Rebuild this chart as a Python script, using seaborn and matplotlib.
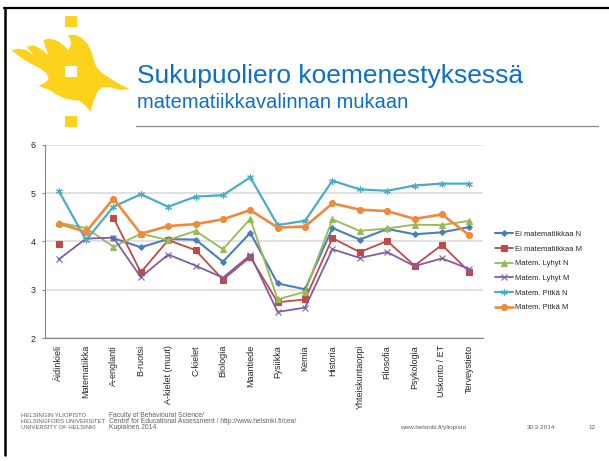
import numpy as np
import pandas as pd
import seaborn as sns
import matplotlib.pyplot as plt
from matplotlib.patches import Polygon, Rectangle

# data
cats = ["Äidinkieli", "Matematiikka", "A-englanti", "B-ruotsi", "A-kielet (muut)",
        "C-kielet", "Biologia", "Maantiede", "Fysiikka", "Kemia", "Historia",
        "Yhteiskuntaoppi", "Filosofia", "Psykologia", "Uskonto / ET", "Terveystieto"]
ei_n = [np.nan, np.nan, 4.07, 3.88, 4.05, 4.04, 3.58, 4.18, 3.13, 3.01, 4.28, 4.04, 4.26, 4.15, 4.19, 4.30]
ei_m = [3.95, np.nan, 4.49, 3.36, 4.03, 3.82, 3.21, 3.68, 2.74, 2.80, 4.07, 3.78, 4.01, 3.50, 3.93, 3.37]
lyhyt_n = [4.39, 4.28, 3.89, 4.16, 4.03, 4.22, 3.84, 4.47, 2.80, 2.96, 4.46, 4.22, 4.27, 4.35, 4.34, 4.43]
lyhyt_m = [3.63, 4.06, 4.08, 3.26, 3.73, 3.50, 3.25, 3.72, 2.54, 2.63, 3.84, 3.66, 3.78, 3.49, 3.65, 3.43]
pitka_n = [5.05, 4.03, 4.72, 4.98, 4.72, 4.93, 4.96, 5.33, 4.34, 4.43, 5.26, 5.08, 5.05, 5.16, 5.20, 5.20]
pitka_m = [4.37, 4.20, 4.89, 4.16, 4.32, 4.36, 4.46, 4.65, 4.29, 4.31, 4.79, 4.66, 4.63, 4.47, 4.56, 4.13]

series = [
    ("Ei matematiikkaa N", ei_n, "#4A7EBB", "D", 2.9, 1.5),
    ("Ei matematiikkaa M", ei_m, "#BE4B48", "s", 4.0, 1.3),
    ("Matem. Lyhyt N", lyhyt_n, "#98B954", "^", 4.2, 1.3),
    ("Matem. Lyhyt M", lyhyt_m, "#7D5FA0", "x", 4.0, 1.3),
    ("Matem. Pitkä N", pitka_n, "#4BACC6", (6, 2, 0), 4.8, 1.6),
    ("Matem. Pitkä M", pitka_m, "#F08A3A", "o", 4.3, 1.9),
]

sns.set_style("white")
plt.rcParams['font.family'] = ['Liberation Sans', 'DejaVu Sans']

fig = plt.figure(figsize=(6.09, 4.61), dpi=100)

# background layer in pixel coords for the slide decorations
bg = fig.add_axes([0, 0, 1, 1])
bg.set_xlim(0, 609)
bg.set_ylim(461, 0)
bg.axis('off')

yellow = '#FDD21C'
flame = [(35, 151), (55, 146), (78, 150), (96, 162), (104, 170),
         (88, 150), (80, 140), (100, 136), (122, 146), (138, 160), (146, 166),
         (136, 140), (130, 120), (150, 116), (175, 124), (195, 140), (205, 150),
         (214, 132), (210, 116), (203, 106), (222, 104), (245, 113), (263, 132),
         (276, 160), (285, 192), (298, 212), (325, 232), (355, 250), (390, 268),
         (360, 270), (330, 262), (305, 262), (292, 275), (282, 300), (272, 334),
         (255, 316), (238, 302), (218, 300), (195, 296), (170, 284), (145, 268), (115, 258),
         (132, 250), (146, 238), (140, 220), (120, 205), (95, 192), (70, 178), (50, 163)]
bg.add_patch(Polygon([(x / 3, y / 3) for x, y in flame], closed=True, color=yellow, lw=0))
bg.add_patch(Rectangle((65, 16), 12, 11, color=yellow, lw=0))
bg.add_patch(Rectangle((65, 66), 12, 11, color='white', lw=0))
bg.add_patch(Rectangle((65, 116), 12, 11, color=yellow, lw=0))

# slide frame
bg.plot([4, 609], [8.3, 8.3], color='black', lw=1.6)
bg.plot([4.5, 4.5], [8, 455], color='black', lw=1.8)

bg.text(137, 83, "Sukupuoliero koemenestyksessä", fontsize=19, color='#0F6FC6', va='baseline')
bg.text(137, 108, "matematiikkavalinnan mukaan", fontsize=14.5, color='#0F6FC6', va='baseline')
bg.plot([136, 598], [126, 126], color='#8C8C8C', lw=0.9)

foot = dict(fontsize=4.3, color='#606060', va='center')
for i, t in enumerate(["HELSINGIN YLIOPISTO", "HELSINGFORS UNIVERSITET", "UNIVERSITY OF HELSINKI"]):
    bg.text(21, 415 + 6.2 * i, t, **foot)
foot['fontsize'] = 4.9
for i, t in enumerate(["Faculty of Behavioural Science/",
                       "Centre for Educational Assessment / http://www.helsinki.fi/cea/",
                       "Kupiainen 2014"]):
    bg.text(109, 415 + 6.2 * i, t, **foot)
foot['fontsize'] = 4.6
bg.text(400, 427.4, "www.helsinki.fi/yliopisto", **foot)
bg.text(527, 427.4, "30.3.2014", **foot)
bg.text(588, 427.4, "12", **foot)

# chart
ax = fig.add_axes([45 / 609, 1 - 338 / 461, (483 - 45) / 609, (338 - 145) / 461])
ax.patch.set_alpha(0)

handles = []
for name, vals, col, mk, ms, lw in series:
    d = pd.DataFrame({'pos': np.arange(len(cats)), 'value': vals})
    d['seg'] = d['value'].isna().cumsum()
    d = d.dropna()
    n0 = len(ax.lines)
    sns.lineplot(data=d, x='pos', y='value', units='seg', estimator=None, ax=ax,
                 color=col, marker=mk, markersize=ms, markeredgecolor=col,
                 markerfacecolor=col, markeredgewidth=0.8, linewidth=lw, legend=False)
    h = ax.lines[n0]
    h.set_label(name)
    handles.append(h)

ax.set_xlim(-0.5, 15.5)
ax.set_ylim(2, 6)
ax.set_yticks([2, 3, 4, 5, 6])
ax.set_xticks(range(len(cats)))
ax.set_xticklabels(cats, rotation=90, fontsize=6.5)
ax.set_xticks(np.arange(-0.5, 16, 1), minor=True)
ax.tick_params(axis='x', which='major', length=0, pad=5)
ax.tick_params(axis='x', which='minor', length=3, width=0.8, color='#868686', direction='out')
ax.tick_params(axis='y', length=2.5, width=0.8, color='#868686', pad=4, labelsize=6.5, left=True)
ax.grid(axis='y', color='#D9D9D9', lw=1.1)
ax.set_axisbelow(True)
for s in ['top', 'right']:
    ax.spines[s].set_visible(False)
for s in ['left', 'bottom']:
    ax.spines[s].set_color('#868686')
    ax.spines[s].set_linewidth(0.8)
ax.set_xlabel('')
ax.set_ylabel('')

ax.legend(handles, [h.get_label() for h in handles], loc='center left',
          bbox_to_anchor=(495 / 609, 1 - 271 / 461), bbox_transform=fig.transFigure,
          frameon=False, fontsize=5.5, handlelength=2.4, handletextpad=0.2,
          labelspacing=0.95, borderpad=0, borderaxespad=0)

fig.savefig('out.png', dpi=100)
